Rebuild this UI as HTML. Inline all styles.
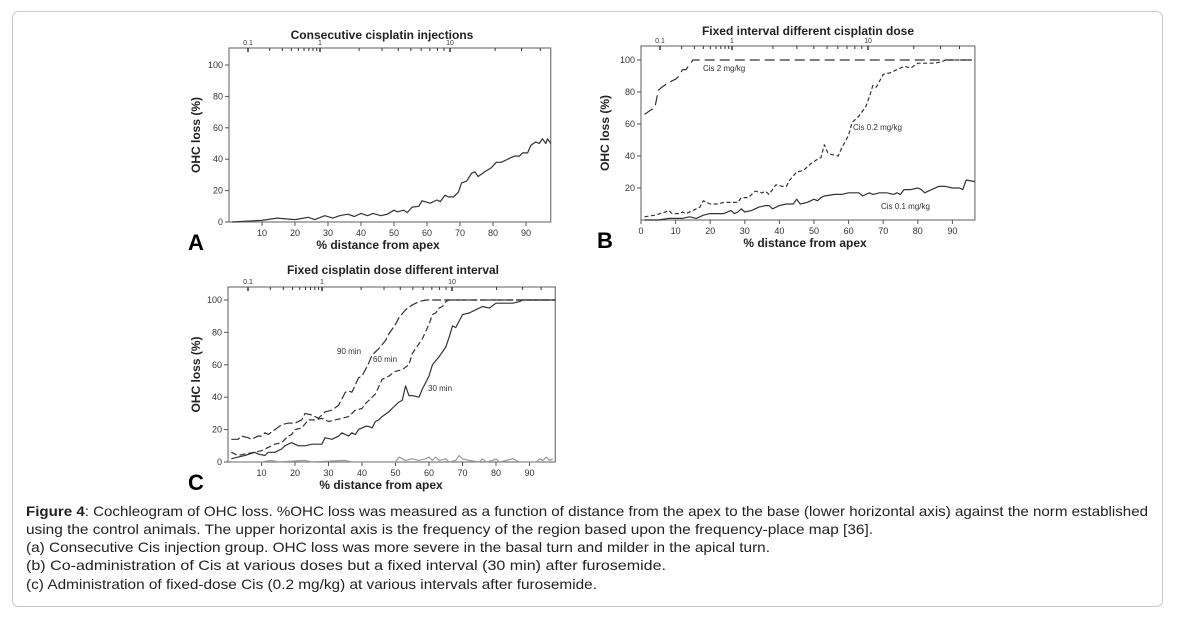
<!DOCTYPE html>
<html><head><meta charset="utf-8">
<style>
html,body{margin:0;padding:0;background:#fff;}
svg{display:block;font-family:"Liberation Sans",Arial,sans-serif;}
</style></head>
<body>
<svg id="fig" width="1186" height="621" viewBox="0 0 1186 621" xmlns="http://www.w3.org/2000/svg">
<rect x="12.5" y="11.5" width="1150" height="595" rx="6" fill="#fff" stroke="#c8c8c8"/>
<g id="panels"></g>
<g font-size="14" fill="#222">
<text x="26" y="516" textLength="1122" lengthAdjust="spacingAndGlyphs"><tspan font-weight="bold">Figure 4</tspan>: Cochleogram of OHC loss. %OHC loss was measured as a function of distance from the apex to the base (lower horizontal axis) against the norm established</text>
<text x="26" y="534" textLength="847" lengthAdjust="spacingAndGlyphs">using the control animals. The upper horizontal axis is the frequency of the region based upon the frequency-place map [36].</text>
<text x="26" y="552" textLength="744" lengthAdjust="spacingAndGlyphs">(a) Consecutive Cis injection group. OHC loss was more severe in the basal turn and milder in the apical turn.</text>
<text x="26" y="570" textLength="640" lengthAdjust="spacingAndGlyphs">(b) Co-administration of Cis at various doses but a fixed interval (30 min) after furosemide.</text>
<text x="26" y="589" textLength="571" lengthAdjust="spacingAndGlyphs">(c) Administration of fixed-dose Cis (0.2 mg/kg) at various intervals after furosemide.</text>
</g>
</svg>
<script>
// ---------- data ----------
const xTicks = [10,20,30,40,50,60,70,80,90];
const xTicksB = [0,10,20,30,40,50,60,70,80,90];
const yTicks = [0,20,40,60,80,100];
const yTicksB = [20,40,60,80,100];
const freqTicks = [0.1,0.2,0.3,0.4,0.5,0.6,0.7,0.8,0.9,1,2,3,4,5,6,7,8,9,10,20,30,40];
const freqLabels = ["0.1","1","10"];

const aX = [1,5,10,14.6,20,24,26,29,31.5,33.5,36,38,40,42,43.7,46,48,50,51,53,54,55.5,57.5,58.5,61,63,64,65.5,66.5,68,69.5,70.5,72,73.5,74.5,75.5,77.5,79.5,81,82.5,85.5,86.5,88,89,90.5,91.5,93,94,95,96,96.5,97.5];
const aY = [0,0.5,1,2.5,1.5,3,1.5,4,2.5,4,5,3.5,5.5,4,5.5,4,5,7.5,6.5,7.5,6,9.5,10,13.5,12,14,13,17,16,16,19,25,26,31,32,29,32,34.5,38,38,41,42,42,44,44,49,51,50,53,50,53,50];

const b2X = [1,3,4,5,6,8,10,11,12,13,14,15,96.5];
const b2Y = [66,69,70,81,83,86,88,90,94,94,97,100,100];
const b02X = [1,4,7,8,9,11,12,13,15,17,18,20,22,24,26,28,29,31,33,35,36,37,38,39,41,42,43,45,47,49,51,52,53,54,55,57,58,60,61,63,65,66,67,68,70,72,74,76,78,80,82,85,87,88,90,92,96.5];
const b02Y = [2,3,5,6,4,4,5,4,6,8,12,10,10,11,11,11,14,14,18,17,18,16,19,22,21,21,25,30,31,35,38,39,47,42,41,40,45,53,61,65,71,77,84,83,91,92,94,96,95,98,98,98,99,100,100,100,100];
const b01X = [1,5,8,12,14,16,18,20,24,26,27,28,29,30,32,34,36,37,38,40,42,44,45,46,48,50,51,52,53,56,58,60,63,64,66,67,69,71,73,74,75,76,78,80,81,82,84,86,88,90,92,93,94,96.5];
const b01Y = [0,0,1,1,2,1,3,4,4,6,4,5,7,5,6,8,9,9,7,9,10,10,13,10,11,13,12,14,15,16,16,17,17,15,17,16,17,17,16,17,16,19,19,20,19,17,19,21,21,20,20,19,25,24];

const c90X = [1,3,4,6,7,9,10,11,12,14,16,18,20,22,23,25,27,29,31,33,35,36,37,39,40,42,43,45,47,48,50,51,53,55,57,59,97.7];
const c90Y = [14,14,16,15,14,16,16,18,17,20,23,24,24,26,30,29,27,31,32,35,43,44,43,52,53,61,66,70,75,79,85,89,94,97,99,100,100];
const c60X = [1,3,5,8,10,12,14,16,18,19,20,22,24,26,28,30,32,34,36,38,40,41,43,44,46,48,50,52,54,55,57,58,60,61,62,63,64,65,66,97.7];
const c60Y = [6,4,5,6,7,9,11,12,16,17,20,21,26,26,27,25,26,27,28,32,33,36,40,42,51,53,56,57,60,67,73,76,85,91,92,95,96,99,100,100];
const c30X = [1,3,5,8,9,11,12,14,16,17,19,20,21,23,25,27,28,29,31,33,34,35,36,37,38,39,41,42,43,44,45,46,48,49,51,52,53,54,55,57,58,60,61,63,65,66,67,68,70,72,74,76,78,80,82,85,87,88,90,97.7];
const c30Y = [2,3,4,6,5,4,6,6,8,10,12,11,10,10,11,11,11,15,14,16,18,17,16,18,17,20,22,22,21,25,26,28,31,33,37,38,47,41,41,40,45,53,60,65,71,77,84,83,91,92,94,96,95,98,98,98,99,100,100,100];
const cCtlX = [1,10,13,15,23,25,35,37,50,51,53,55,57,59,60,61,62,63,65,66,68,69,70,72,75,76,77,79,80,81,85,87,92,93,94,95,96,97];
const cCtlY = [0,0,1,0,1,0,1,0,0,3,1,2,1,2,3,1,3,1,2,0,1,4,2,1,0,2,0,1,2,0,2,0,0,2,1,3,1,2];

// ---------- drawing ----------
const NS = "http://www.w3.org/2000/svg";
const root = document.getElementById('panels');
function el(tag, attrs, parent, txt){
  const e = document.createElementNS(NS, tag);
  for (const k in attrs) e.setAttribute(k, attrs[k]);
  if (txt !== undefined) e.textContent = txt;
  (parent||root).appendChild(e);
  return e;
}
function panel(p){
  const g = el('g', {});
  
  
  const X = v => p.x0 + v*p.sx;
  const Y = v => p.y0 - v*p.sy;
  const right = X(p.xmax);
  // frame
  const fr = el('rect', {x:p.x0, y:p.top, width:right-p.x0, height:p.y0-p.top, fill:'none', stroke:'#777', 'stroke-width':1.2}, g);
  
  
  // y ticks
  p.yt.forEach(v=>{
    el('line',{x1:p.x0-4,x2:p.x0,y1:Y(v),y2:Y(v),stroke:'#555'},g);
    const t = el('text',{x:p.x0-6,y:Y(v)+3,'font-size':9,'text-anchor':'end',fill:'#333'},g,String(v));
    
    
  });
  p.xt.forEach(v=>{
    el('line',{x1:X(v),x2:X(v),y1:p.y0,y2:p.y0+4,stroke:'#555'},g);
    const t = el('text',{x:X(v),y:p.y0+14,'font-size':9,'text-anchor':'middle',fill:'#333'},g,String(v));
    
    
  });
  // top frequency axis (log interp between anchors)
  const anc = p.freqAnchors; // [[f,px],...]
  const fpos = f => {
    const lf = Math.log10(f);
    for (let i=0;i<anc.length-1;i++){
      const a=Math.log10(anc[i][0]), b=Math.log10(anc[i+1][0]);
      if (lf<=b+1e-9) return anc[i][1] + (lf-a)/(b-a)*(anc[i+1][1]-anc[i][1]);
    }
    return anc[anc.length-1][1];
  };
  freqTicks.forEach(f=>{
    const px = fpos(f);
    if (px>right) return;
    const major = (f===0.1||f===1||f===10);
    el('line',{x1:px,x2:px,y1:p.top,y2:p.top+(major?4:3),stroke:'#333','stroke-width':major?1.5:1},g);
  });
  freqLabels.forEach(s=>{
    const t = el('text',{x:fpos(parseFloat(s)),y:p.top-3,'font-size':7,'text-anchor':'middle',fill:'#333'},g,s);
    
    
  });
  // titles
  const tt = el('text',{x:p.titleX,y:p.titleY,'font-size':12,'font-weight':'bold','text-anchor':'middle',fill:'#222'},g,p.title);
  
  
  const xt = el('text',{x:p.xtitleX,y:p.y0+27,'font-size':12,'font-weight':'bold','text-anchor':'middle',fill:'#222'},g,'% distance from apex');
  
  
  const cy = (p.top+p.y0)/2;
  const yt = el('text',{x:p.ytitleX,y:cy,'font-size':12,'font-weight':'bold','text-anchor':'middle',fill:'#222',transform:`rotate(-90 ${p.ytitleX} ${cy})`},g,'OHC loss (%)');
  
  
  const lt = el('text',{x:p.letterX,y:p.y0+28,'font-size':22,'font-weight':'bold',fill:'#000'},g,p.letter);
  
  
  // series
  p.series.forEach(s=>{
    const d = s.x.map((v,i)=>(i?'L':'M')+X(v).toFixed(1)+' '+Y(s.y[i]).toFixed(1)).join(' ');
    const path = el('path',{d:d,fill:'none',stroke:s.color||'#333','stroke-width':1.2,'stroke-dasharray':s.dash||'none','stroke-linejoin':'round'},g);
    
    
  });
  (p.labels||[]).forEach(l=>{
    const t = el('text',{x:l.x,y:l.y,'font-size':8,fill:'#333'},g,l.t);
    
    
  });
}

panel({name:'panel-a', letter:'A', letterX:188, x0:229, sx:3.3, xmax:97.5, y0:222, sy:1.57, top:48,
  xt:xTicks, yt:yTicks, freqAnchors:[[0.1,248],[1,320],[10,450],[100,600]],
  title:'Consecutive cisplatin injections', titleX:382, titleY:39, xtitleX:378, ytitleX:200,
  series:[{name:'line-consecutive-injections', x:aX, y:aY}]});

panel({name:'panel-b', letter:'B', letterX:597, x0:641, sx:3.46, xmax:96.5, y0:220, sy:1.6, top:46,
  xt:xTicksB, yt:yTicksB, freqAnchors:[[0.1,660],[1,732],[10,868],[100,1020]],
  title:'Fixed interval different cisplatin dose', titleX:808, titleY:35, xtitleX:805, ytitleX:609,
  series:[{name:'line-cis-2mgkg', x:b2X, y:b2Y, dash:'10,5'},
          {name:'line-cis-0.2mgkg', x:b02X, y:b02Y, dash:'4,2.5'},
          {name:'line-cis-0.1mgkg', x:b01X, y:b01Y}],
  labels:[{x:703,y:71,t:'Cis 2 mg/kg'},{x:853,y:130,t:'Cis 0.2 mg/kg'},{x:881,y:209,t:'Cis 0.1 mg/kg'}]});

panel({name:'panel-c', letter:'C', letterX:188, x0:228, sx:3.35, xmax:97.7, y0:462, sy:1.62, top:287,
  xt:xTicks, yt:yTicks, freqAnchors:[[0.1,248],[1,322],[10,452],[100,600]],
  title:'Fixed cisplatin dose different interval', titleX:393, titleY:274, xtitleX:381, ytitleX:200,
  series:[{name:'line-90-min', x:c90X, y:c90Y, dash:'9,3'},
          {name:'line-60-min', x:c60X, y:c60Y, dash:'6,3'},
          {name:'line-30-min', x:c30X, y:c30Y},
          {name:'line-control', x:cCtlX, y:cCtlY, color:'#999'}],
  labels:[{x:337,y:354,t:'90 min'},{x:373,y:362,t:'60 min'},{x:428,y:391,t:'30 min'}]});
</script>
</body></html>
